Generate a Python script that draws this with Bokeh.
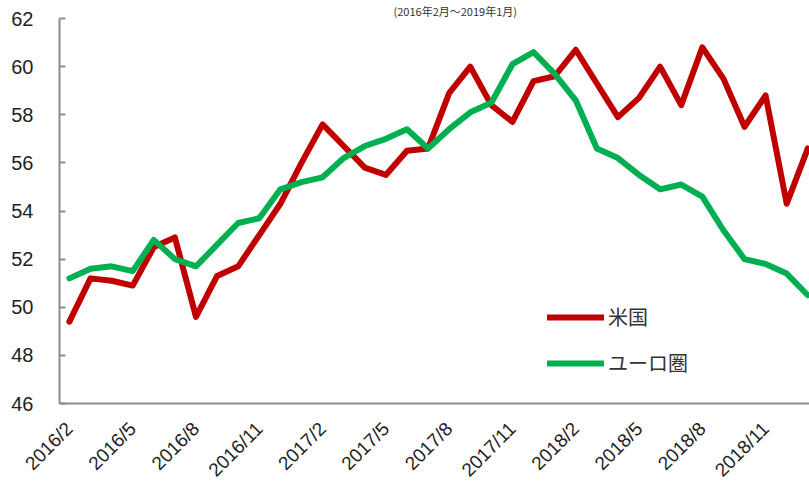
from bokeh.plotting import figure
from bokeh.models import Range1d, FixedTicker, Legend, LegendItem
from bokeh.embed import file_html
from bokeh.resources import INLINE
import math

months = []
for y in (2016, 2017, 2018, 2019):
    for m in range(1, 13):
        if (y == 2016 and m < 2) or (y == 2019 and m > 1):
            continue
        months.append(f"{y}/{m}")

us = [49.4, 51.2, 51.1, 50.9, 52.5, 52.9, 49.6, 51.3, 51.7, 53.0, 54.3, 56.0,
      57.6, 56.7, 55.8, 55.5, 56.5, 56.6, 58.9, 60.0, 58.4, 57.7, 59.4, 59.6,
      60.7, 59.3, 57.9, 58.7, 60.0, 58.4, 60.8, 59.5, 57.5, 58.8, 54.3, 56.6]
ez = [51.2, 51.6, 51.7, 51.5, 52.8, 52.0, 51.7, 52.6, 53.5, 53.7, 54.9, 55.2,
      55.4, 56.2, 56.7, 57.0, 57.4, 56.6, 57.4, 58.1, 58.5, 60.1, 60.6, 59.7,
      58.6, 56.6, 56.2, 55.5, 54.9, 55.1, 54.6, 53.2, 52.0, 51.8, 51.4, 50.5]
series_names = ["米国", "ユーロ圏"]
y_ticks = [46, 48, 50, 52, 54, 56, 58, 60, 62]
title_text = "(2016年2月～2019年1月)"

idx = list(range(len(months)))

p = figure(width=809, height=490, output_backend="svg", toolbar_location=None,
           x_range=Range1d(-0.47, 35.08), y_range=Range1d(46, 62))
p.min_border_left = 59
p.min_border_right = 0
p.min_border_top = 0
p.min_border_bottom = 85
p.outline_line_color = None
p.xgrid.visible = False
p.ygrid.visible = False

p.title.text = title_text
p.title.align = "left"
p.title.offset = 334
p.title.standoff = 0
p.title.text_font = "Noto Sans CJK JP"
p.title.text_font_size = "11px"
p.title.text_font_style = "normal"
p.title.text_color = "#333333"

r_us = p.line(idx, us, line_color="#C00000", line_width=6, line_join="round", line_cap="round")
r_ez = p.line(idx, ez, line_color="#00B050", line_width=6, line_join="round", line_cap="round")

axis_col = "#8c8c8c"
tick_font = "Liberation Sans, Arial, sans-serif"

p.yaxis.ticker = FixedTicker(ticks=y_ticks)
p.yaxis.axis_line_color = axis_col
p.yaxis.axis_line_width = 2
p.yaxis.major_tick_line_color = axis_col
p.yaxis.major_tick_line_width = 2
p.yaxis.major_tick_in = 6
p.yaxis.major_tick_out = 0
p.yaxis.minor_tick_line_color = None
p.yaxis.major_label_standoff = 26
p.yaxis.major_label_text_font = tick_font
p.yaxis.major_label_text_font_size = "20px"
p.yaxis.major_label_text_color = "#222222"

p.xaxis.ticker = FixedTicker(ticks=idx[::3])
p.xaxis.major_label_overrides = {i: months[i] for i in idx[::3]}
p.xaxis.axis_line_color = axis_col
p.xaxis.axis_line_width = 2
p.xaxis.major_tick_line_color = None
p.xaxis.minor_tick_line_color = None
p.xaxis.major_label_orientation = math.pi / 4
p.xaxis.major_label_standoff = 16
p.xaxis.major_label_text_font = tick_font
p.xaxis.major_label_text_font_size = "19px"
p.xaxis.major_label_text_color = "#222222"

legend = Legend(items=[LegendItem(label=series_names[0], renderers=[r_us]),
                       LegendItem(label=series_names[1], renderers=[r_ez])],
                location=(488, 26))
legend.border_line_color = None
legend.background_fill_alpha = 0
legend.glyph_width = 57
legend.glyph_height = 20
legend.label_height = 20
legend.label_standoff = 4
legend.spacing = 17
legend.padding = 0
legend.margin = 0
legend.label_text_font = "Noto Sans CJK JP"
legend.label_text_font_size = "20px"
legend.label_text_color = "#333333"
p.add_layout(legend, "center")

open("out.html", "w").write(file_html(p, INLINE))
